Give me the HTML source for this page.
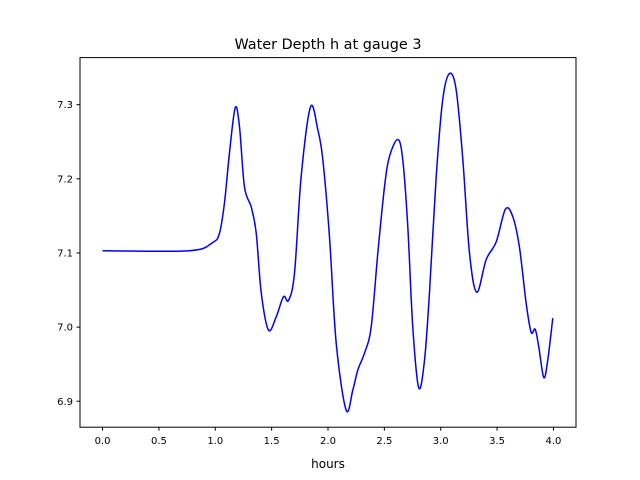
<!DOCTYPE html>
<html><head><meta charset="utf-8"><style>
body{margin:0;background:#fff}
svg{display:block;font-family:"DejaVu Sans","Liberation Sans",sans-serif}
</style></head><body>
<svg id="c" width="640" height="480">
<rect width="640" height="480" fill="#fff"/>
<text x="328" y="49" text-anchor="middle" font-size="14.4" fill="#000">Water Depth h at gauge 3</text>
<g id="plot"></g>
<text x="328" y="468" text-anchor="middle" font-size="12" fill="#000">hours</text>
</svg>
<script>
const times=[0,0.77,0.976,1.038,1.082,1.126,1.177,1.215,1.259,1.319,1.363,1.408,1.472,1.541,1.605,1.650,1.703,1.762,1.845,1.910,1.954,2.013,2.073,2.161,2.220,2.264,2.324,2.383,2.442,2.501,2.545,2.619,2.663,2.708,2.752,2.805,2.856,2.900,2.960,3.018,3.078,3.137,3.196,3.255,3.320,3.403,3.492,3.574,3.639,3.698,3.758,3.802,3.838,3.870,3.914,3.949,3.994];
const depth=[7.103,7.103,7.114,7.127,7.168,7.235,7.296,7.270,7.189,7.162,7.127,7.046,6.996,7.014,7.041,7.036,7.073,7.203,7.297,7.266,7.226,7.122,6.978,6.888,6.915,6.942,6.965,7.000,7.100,7.189,7.230,7.253,7.226,7.135,7.000,6.918,6.955,7.046,7.203,7.307,7.342,7.320,7.226,7.100,7.047,7.091,7.115,7.159,7.149,7.108,7.032,6.993,6.997,6.973,6.932,6.955,7.012];
const xTicks=[0,0.5,1,1.5,2,2.5,3,3.5,4];
const xTickLabels=["0.0","0.5","1.0","1.5","2.0","2.5","3.0","3.5","4.0"];
const yTicks=[6.9,7.0,7.1,7.2,7.3];
const yTickLabels=["6.9","7.0","7.1","7.2","7.3"];
const L=80,R=576,T=57.6,B=427.2;
const x0=-0.2,x1=4.2,y0=6.865,y1=7.3635;
const sx=v=>L+(v-x0)/(x1-x0)*(R-L);
const sy=v=>B-(v-y0)/(y1-y0)*(B-T);
const g=document.getElementById('plot');
const NS='http://www.w3.org/2000/svg';
function mk(t,a){const e=document.createElementNS(NS,t);for(const k in a)e.setAttribute(k,a[k]);g.appendChild(e);return e;}
// line
const P=times.map((t,i)=>[sx(t),sy(depth[i])]);
let d='M'+P[0][0]+','+P[0][1];
for(let i=0;i<P.length-1;i++){
 const p0=P[i-1]||P[i],p1=P[i],p2=P[i+1],p3=P[i+2]||P[i+1];
 const c1=[p1[0]+(p2[0]-p0[0])/6,p1[1]+(p2[1]-p0[1])/6];
 const c2=[p2[0]-(p3[0]-p1[0])/6,p2[1]-(p3[1]-p1[1])/6];
 d+=` C${c1[0]},${c1[1]} ${c2[0]},${c2[1]} ${p2[0]},${p2[1]}`;
}
const ln=mk('path',{d:d,fill:'none',stroke:'#0000ff','stroke-width':1.5,'stroke-linejoin':'round'});


const fr=mk('rect',{x:L,y:T,width:R-L,height:B-T,fill:'none',stroke:'#000','stroke-width':1});


xTicks.forEach((v,i)=>{
 const x=sx(v);
 const tk=mk('line',{x1:x,x2:x,y1:B,y2:B+3.5,stroke:'#000'});
 
 
 const tx=mk('text',{x:x,y:B+17,'text-anchor':'middle','font-size':10,fill:'#000'});
 tx.textContent=xTickLabels[i];
 
 
});
yTicks.forEach((v,i)=>{
 const y=sy(v);
 const tk=mk('line',{x1:L-3.5,x2:L,y1:y,y2:y,stroke:'#000'});
 
 
 const tx=mk('text',{x:L-7,y:y+3.5,'text-anchor':'end','font-size':10,fill:'#000'});
 tx.textContent=yTickLabels[i];
 
 
});
</script>
</body></html>
